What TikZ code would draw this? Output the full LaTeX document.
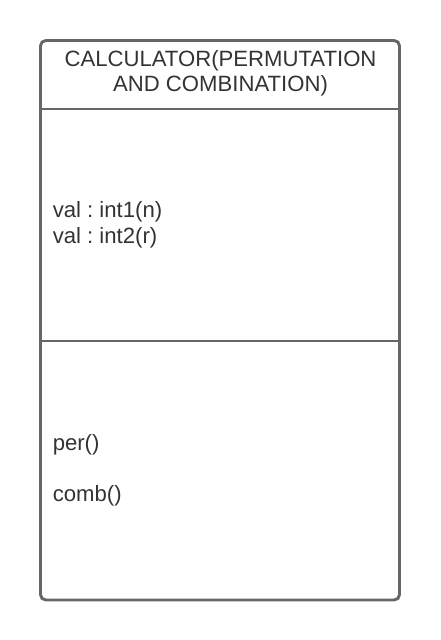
\documentclass[tikz,border=0pt]{standalone}
\usepackage{fontspec}
\setmainfont{Liberation Sans}
\usepackage{tikz}

\definecolor{framegray}{HTML}{666666}
\definecolor{textgray}{HTML}{333333}

\tikzset{
  umltext/.style={anchor=base west, inner sep=0pt, text=textgray, font=\fontsize{16.6}{19.5}\selectfont\frenchspacing},
  umlhead/.style={umltext, anchor=base},
  umlline/.style={draw=framegray, line width=2.2pt}
}

\begin{document}
\begin{tikzpicture}[x=0.75pt,y=0.75pt,yscale=-1,xscale=1]
        \useasboundingbox (0,0) rectangle (440,640);
        % class box
        \draw [umlline, rounded corners=4] (40.5,40.5) rectangle (399.5,600);
        \coordinate (d1l) at (40.5,109);
        \coordinate (d1r) at (399.5,109);
        \coordinate (d2l) at (40.5,341);
        \coordinate (d2r) at (399.5,341);
        \draw [umlline] (d1l)--(d1r);
        \draw [umlline] (d2l)--(d2r);
        % name
        \node [umlhead] (name1) at (220.5,66.7) {CALCULATOR(PERMUTATION};
        \node [umlhead] (name2) at (220.5,91.7) {AND COMBINATION)};
        % attributes
        \node [umltext] (attr1) at (52.5,217.5) {val : int1(n)};
        \node [umltext] (attr2) at (52.5,243.5) {val : int2(r)};
        % operations
        \node [umltext] (op1) at (52.5,450.7) {per()};
        \node [umltext] (op2) at (52.5,501.7) {comb()};
    \end{tikzpicture}
\end{document}
